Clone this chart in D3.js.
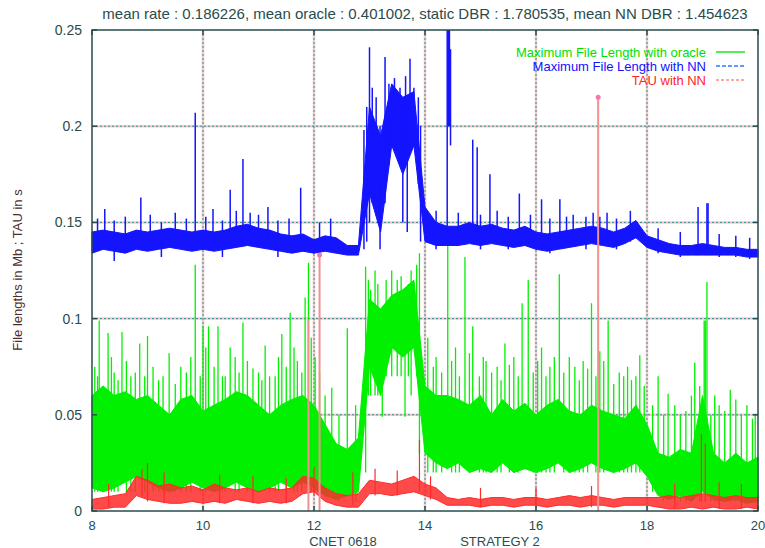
<html>
<head>
<meta charset="utf-8">
<script src="https://cdn.jsdelivr.net/npm/d3@7/dist/d3.min.js"></script>
<style>
  body { margin: 0; background: white; }
  text { font-family: "Liberation Sans", Arial, sans-serif; }
</style>
</head>
<body>
<div id="chart"></div>
<script>
// --- data ---
const hours = [8.0, 8.2, 8.4, 8.6, 8.8, 9.0, 9.2, 9.4, 9.6, 9.8,
  10.0, 10.2, 10.4, 10.6, 10.8, 11.0, 11.2, 11.4, 11.6, 11.8,
  12.0, 12.2, 12.4, 12.6, 12.8, 13.0, 13.2, 13.4, 13.6, 13.8,
  14.0, 14.2, 14.4, 14.6, 14.8, 15.0, 15.2, 15.4, 15.6, 15.8,
  16.0, 16.2, 16.4, 16.6, 16.8, 17.0, 17.2, 17.4, 17.6, 17.8,
  18.0, 18.2, 18.4, 18.6, 18.8, 19.0, 19.2, 19.4, 19.6, 19.8, 20.0];

// Maximum File Length with oracle (dense band low / high)
const oracleLo = [0.012, 0.010, 0.012, 0.015, 0.018, 0.015, 0.012, 0.010, 0.012, 0.015,
  0.012, 0.010, 0.012, 0.015, 0.012, 0.010, 0.012, 0.015, 0.012, 0.015,
  0.012, 0.008, 0.006, 0.008, 0.010, 0.075, 0.060, 0.085, 0.080, 0.085,
  0.030, 0.025, 0.022, 0.025, 0.020, 0.022, 0.020, 0.025, 0.020, 0.022,
  0.020, 0.022, 0.025, 0.020, 0.022, 0.025, 0.022, 0.020, 0.022, 0.025,
  0.018, 0.008, 0.006, 0.008, 0.005, 0.010, 0.006, 0.005, 0.006, 0.004, 0.005];
const oracleHi = [0.060, 0.065, 0.060, 0.062, 0.058, 0.060, 0.055, 0.050, 0.058, 0.060,
  0.052, 0.055, 0.058, 0.062, 0.060, 0.055, 0.050, 0.055, 0.058, 0.060,
  0.055, 0.045, 0.035, 0.032, 0.038, 0.110, 0.105, 0.112, 0.115, 0.120,
  0.065, 0.060, 0.060, 0.058, 0.055, 0.060, 0.050, 0.058, 0.052, 0.056,
  0.050, 0.055, 0.058, 0.052, 0.050, 0.055, 0.052, 0.050, 0.048, 0.055,
  0.045, 0.030, 0.028, 0.032, 0.030, 0.060, 0.030, 0.025, 0.030, 0.025, 0.028];
// spikes: [hour, from, to]
const oracleSpikes = [
  [8.05, 0.01, 0.075], [8.10, 0.01, 0.070], [8.13, 0.02, 0.099], [8.29, 0.02, 0.0925],
  [8.35, 0.01, 0.080], [8.40, 0.01, 0.072], [8.47, 0.01, 0.068], [8.54, 0.02, 0.093],
  [8.62, 0.01, 0.078], [8.70, 0.01, 0.070], [8.78, 0.01, 0.072], [8.86, 0.02, 0.087],
  [8.95, 0.01, 0.070], [9.00, 0.02, 0.091], [9.10, 0.01, 0.075], [9.20, 0.01, 0.068],
  [9.28, 0.01, 0.070], [9.39, 0.02, 0.082], [9.50, 0.01, 0.066], [9.60, 0.01, 0.075],
  [9.70, 0.01, 0.072], [9.78, 0.01, 0.080], [9.86, 0.02, 0.128], [9.95, 0.01, 0.070],
  [10.00, 0.02, 0.096], [10.05, 0.01, 0.085], [10.10, 0.02, 0.096], [10.20, 0.01, 0.075],
  [10.27, 0.02, 0.096], [10.35, 0.01, 0.070], [10.40, 0.01, 0.070], [10.49, 0.02, 0.085],
  [10.58, 0.01, 0.080], [10.65, 0.01, 0.072], [10.72, 0.02, 0.098], [10.80, 0.01, 0.078],
  [10.90, 0.01, 0.074], [11.00, 0.01, 0.072], [11.06, 0.01, 0.068], [11.12, 0.02, 0.086],
  [11.20, 0.01, 0.070], [11.30, 0.01, 0.070], [11.36, 0.01, 0.080], [11.42, 0.02, 0.092],
  [11.50, 0.01, 0.075], [11.57, 0.02, 0.103], [11.64, 0.01, 0.085], [11.70, 0.01, 0.078],
  [11.78, 0.01, 0.072], [11.84, 0.02, 0.111], [11.90, 0.02, 0.129], [11.95, 0.01, 0.090],
  [12.02, 0.01, 0.080], [12.10, 0.01, 0.072], [12.20, 0.01, 0.060], [12.32, 0.01, 0.064],
  [12.45, 0.005, 0.050], [12.60, 0.01, 0.095], [12.75, 0.005, 0.055], [12.93, 0.02, 0.127],
  [12.98, 0.06, 0.120], [13.02, 0.06, 0.115], [13.10, 0.06, 0.125], [13.15, 0.06, 0.118],
  [13.23, 0.049, 0.100], [13.30, 0.07, 0.120], [13.40, 0.07, 0.125], [13.50, 0.07, 0.120],
  [13.57, 0.07, 0.122], [13.64, 0.049, 0.100], [13.70, 0.07, 0.118], [13.75, 0.06, 0.125],
  [13.85, 0.07, 0.128], [13.90, 0.03, 0.134], [14.05, 0.02, 0.090], [14.15, 0.02, 0.075],
  [14.20, 0.02, 0.080], [14.30, 0.02, 0.072], [14.41, 0.03, 0.142], [14.48, 0.02, 0.078],
  [14.55, 0.02, 0.085], [14.62, 0.02, 0.070], [14.72, 0.03, 0.132], [14.80, 0.02, 0.082],
  [14.86, 0.03, 0.096], [14.98, 0.02, 0.070], [15.05, 0.02, 0.080], [15.10, 0.02, 0.078],
  [15.20, 0.02, 0.072], [15.30, 0.02, 0.075], [15.37, 0.02, 0.068], [15.44, 0.03, 0.087],
  [15.52, 0.02, 0.076], [15.60, 0.02, 0.080], [15.68, 0.02, 0.070], [15.75, 0.03, 0.108],
  [15.86, 0.03, 0.120], [15.95, 0.02, 0.072], [16.03, 0.02, 0.078], [16.10, 0.02, 0.085],
  [16.18, 0.02, 0.070], [16.25, 0.02, 0.075], [16.33, 0.02, 0.080], [16.42, 0.03, 0.123],
  [16.50, 0.02, 0.072], [16.60, 0.02, 0.080], [16.70, 0.02, 0.075], [16.78, 0.02, 0.068],
  [16.85, 0.02, 0.078], [16.93, 0.02, 0.074], [17.00, 0.03, 0.108], [17.08, 0.02, 0.070],
  [17.15, 0.02, 0.083], [17.22, 0.02, 0.078], [17.30, 0.03, 0.099], [17.40, 0.02, 0.066],
  [17.50, 0.02, 0.072], [17.58, 0.02, 0.070], [17.65, 0.02, 0.075], [17.72, 0.02, 0.068],
  [17.80, 0.02, 0.070], [17.87, 0.02, 0.081], [17.95, 0.02, 0.065], [18.10, 0.01, 0.055],
  [18.20, 0.01, 0.070], [18.30, 0.005, 0.050], [18.38, 0.01, 0.061], [18.50, 0.005, 0.055],
  [18.60, 0.005, 0.050], [18.70, 0.005, 0.052], [18.80, 0.005, 0.060], [18.86, 0.01, 0.077],
  [18.95, 0.005, 0.065], [19.03, 0.01, 0.099], [19.05, 0.01, 0.099], [19.08, 0.01, 0.119],
  [19.15, 0.005, 0.050], [19.22, 0.005, 0.060], [19.30, 0.005, 0.055], [19.40, 0.005, 0.052],
  [19.50, 0.005, 0.063], [19.60, 0.005, 0.058], [19.70, 0.005, 0.050], [19.80, 0.005, 0.055],
  [19.90, 0.005, 0.048], [19.95, 0.005, 0.050]];

// Maximum File Length with NN
const nnLo = [0.134, 0.136, 0.135, 0.134, 0.136, 0.135, 0.136, 0.137, 0.136, 0.135,
  0.136, 0.135, 0.136, 0.137, 0.138, 0.137, 0.136, 0.135, 0.134, 0.135,
  0.134, 0.135, 0.134, 0.133, 0.133, 0.165, 0.145, 0.190, 0.175, 0.190,
  0.140, 0.138, 0.138, 0.138, 0.139, 0.138, 0.139, 0.138, 0.137, 0.138,
  0.136, 0.135, 0.136, 0.137, 0.138, 0.139, 0.138, 0.137, 0.139, 0.142,
  0.137, 0.135, 0.134, 0.133, 0.133, 0.133, 0.133, 0.133, 0.133, 0.132, 0.132];
const nnHi = [0.145, 0.146, 0.145, 0.144, 0.146, 0.145, 0.146, 0.147, 0.146, 0.145,
  0.146, 0.145, 0.146, 0.148, 0.149, 0.147, 0.146, 0.144, 0.143, 0.144,
  0.141, 0.143, 0.142, 0.138, 0.138, 0.210, 0.195, 0.222, 0.215, 0.218,
  0.158, 0.150, 0.148, 0.148, 0.150, 0.148, 0.149, 0.147, 0.146, 0.148,
  0.145, 0.144, 0.145, 0.146, 0.147, 0.148, 0.147, 0.145, 0.147, 0.151,
  0.143, 0.141, 0.139, 0.138, 0.138, 0.139, 0.138, 0.137, 0.137, 0.136, 0.136];
const nnSpikes = [
  [8.10, 0.14, 0.152], [8.23, 0.14, 0.157], [8.40, 0.13, 0.151], [8.60, 0.14, 0.153],
  [8.88, 0.14, 0.163], [9.05, 0.14, 0.154], [9.25, 0.132, 0.150], [9.50, 0.14, 0.155],
  [9.70, 0.14, 0.152], [9.86, 0.14, 0.207], [10.05, 0.14, 0.153], [10.18, 0.14, 0.157],
  [10.35, 0.132, 0.151], [10.49, 0.14, 0.167], [10.60, 0.14, 0.156], [10.72, 0.14, 0.183],
  [10.85, 0.14, 0.155], [11.00, 0.14, 0.154], [11.17, 0.14, 0.158], [11.35, 0.132, 0.151],
  [11.55, 0.14, 0.152], [11.76, 0.14, 0.168], [12.10, 0.132, 0.150], [12.30, 0.14, 0.152],
  [12.90, 0.136, 0.198], [12.95, 0.14, 0.210], [13.00, 0.15, 0.241], [13.05, 0.16, 0.220],
  [13.12, 0.17, 0.215], [13.19, 0.136, 0.200], [13.28, 0.16, 0.236], [13.35, 0.18, 0.222],
  [13.45, 0.19, 0.225], [13.55, 0.18, 0.220], [13.60, 0.15, 0.215], [13.65, 0.20, 0.226],
  [13.68, 0.145, 0.200], [13.73, 0.19, 0.235], [13.80, 0.20, 0.220], [13.88, 0.17, 0.215],
  [13.92, 0.14, 0.200], [14.20, 0.136, 0.156], [14.40, 0.14, 0.250], [14.42, 0.20, 0.250],
  [14.44, 0.20, 0.250], [14.46, 0.19, 0.240], [14.60, 0.14, 0.155], [14.86, 0.14, 0.193],
  [14.94, 0.14, 0.189], [15.00, 0.136, 0.154], [15.17, 0.14, 0.175], [15.30, 0.14, 0.156],
  [15.50, 0.136, 0.153], [15.70, 0.14, 0.165], [15.90, 0.14, 0.154], [16.10, 0.14, 0.162],
  [16.25, 0.134, 0.152], [16.43, 0.14, 0.162], [16.55, 0.14, 0.153], [16.67, 0.14, 0.154],
  [16.90, 0.136, 0.153], [17.03, 0.14, 0.155], [17.15, 0.14, 0.153], [17.28, 0.14, 0.155],
  [17.45, 0.136, 0.152], [17.70, 0.14, 0.156], [18.20, 0.134, 0.147], [18.60, 0.132, 0.145],
  [18.92, 0.135, 0.158], [19.08, 0.135, 0.160], [19.10, 0.135, 0.160], [19.30, 0.132, 0.144],
  [19.60, 0.132, 0.143], [19.85, 0.131, 0.142]];

// TAU with NN
const tauLo = [0.001, 0.001, 0.002, 0.002, 0.008, 0.006, 0.005, 0.004, 0.004, 0.005,
  0.004, 0.005, 0.004, 0.006, 0.005, 0.004, 0.005, 0.004, 0.005, 0.009,
  0.010, 0.005, 0.003, 0.002, 0.002, 0.009, 0.009, 0.008, 0.009, 0.010,
  0.008, 0.006, 0.003, 0.003, 0.003, 0.002, 0.003, 0.003, 0.002, 0.003,
  0.003, 0.002, 0.003, 0.003, 0.002, 0.003, 0.003, 0.002, 0.003, 0.003,
  0.003, 0.002, 0.001, 0.001, 0.002, 0.001, 0.002, 0.001, 0.001, 0.002, 0.001];
const tauHi = [0.006, 0.007, 0.008, 0.009, 0.018, 0.016, 0.013, 0.014, 0.012, 0.013,
  0.011, 0.014, 0.012, 0.011, 0.012, 0.010, 0.012, 0.011, 0.012, 0.018,
  0.017, 0.012, 0.009, 0.008, 0.009, 0.016, 0.015, 0.014, 0.016, 0.018,
  0.014, 0.012, 0.007, 0.006, 0.007, 0.006, 0.007, 0.007, 0.006, 0.007,
  0.007, 0.006, 0.007, 0.008, 0.007, 0.008, 0.007, 0.006, 0.007, 0.007,
  0.007, 0.007, 0.008, 0.007, 0.008, 0.009, 0.008, 0.007, 0.008, 0.007, 0.007];
const tauSpikes = [[8.30, 0.002, 0.014], [8.90, 0.008, 0.022], [9.00, 0.005, 0.025],
  [9.30, 0.004, 0.020], [10.30, 0.004, 0.019], [10.90, 0.004, 0.018], [11.50, 0.004, 0.017],
  [11.90, 0.0, 0.099], [12.00, 0.008, 0.023], [12.10, 0.0, 0.133], [12.70, 0.003, 0.020],
  [13.10, 0.008, 0.022], [13.50, 0.008, 0.021], [13.90, 0.01, 0.037], [14.10, 0.006, 0.018],
  [15.00, 0.002, 0.012], [16.00, 0.002, 0.012], [17.00, 0.002, 0.013], [17.12, 0.0, 0.215],
  [18.50, 0.001, 0.014], [18.98, 0.005, 0.040], [19.05, 0.005, 0.035], [19.30, 0.001, 0.015],
  [19.70, 0.001, 0.014]];
const tauMarks = [[12.10, 0.133], [17.12, 0.215]];

const xTicks = [8, 10, 12, 14, 16, 18, 20];
const yTicks = [0, 0.05, 0.1, 0.15, 0.2, 0.25];
const yTickLabels = ["0", "0.05", "0.1", "0.15", "0.2", "0.25"];
const legendLabels = ["Maximum File Length with oracle", "Maximum File Length with NN", "TAU with NN"];
const titleText = "mean rate : 0.186226, mean oracle : 0.401002, static DBR : 1.780535, mean NN DBR : 1.454623";

// --- drawing ---
const width = 765, height = 548;
const plotLeft = 92, plotRight = 758, plotTop = 30, plotBottom = 511;
const axisColor = "#294c4c";

const x = d3.scaleLinear().domain([8, 20]).range([plotLeft, plotRight]);
const y = d3.scaleLinear().domain([0, 0.25]).range([plotBottom, plotTop]);

const svg = d3.select("#chart").append("svg")
  .attr("width", width)
  .attr("height", height);

// grid (pink halo under a dotted teal line)
const grid = svg.append("g");
[["#f4cccc", 2.5, "none"], ["#2f8f94", 1, "2,2"]].forEach(st => {
  grid.append("g").selectAll("line").data(xTicks.slice(1, -1)).enter().append("line")
    .attr("x1", d => x(d)).attr("x2", d => x(d))
    .attr("y1", plotTop).attr("y2", plotBottom)
    .style("stroke", st[0]).style("stroke-width", st[1]).style("stroke-dasharray", st[2]);
  grid.append("g").selectAll("line").data(yTicks.slice(1, -1)).enter().append("line")
    .attr("x1", plotLeft).attr("x2", plotRight)
    .attr("y1", d => y(d)).attr("y2", d => y(d))
    .style("stroke", st[0]).style("stroke-width", st[1]).style("stroke-dasharray", st[2]);
});

// band + spikes for one series
function drawSeries(lo, hi, spikes, color, spikeWidth, bandOpacity) {
  const g = svg.append("g");
  const band = hours.map((h, i) => ({h: h, lo: lo[i], hi: hi[i]}));
  const area = d3.area()
    .x(d => x(d.h))
    .y0(d => y(d.lo))
    .y1(d => y(d.hi));
  g.append("path")
    .datum(band)
    .attr("d", area)
    .style("fill", color)
    .style("fill-opacity", bandOpacity)
    .style("stroke", color)
    .style("stroke-width", 1);
  g.selectAll("line").data(spikes).enter().append("line")
    .attr("x1", d => x(d[0])).attr("x2", d => x(d[0]))
    .attr("y1", d => y(d[1])).attr("y2", d => y(d[2]))
    .style("stroke", color)
    .style("stroke-width", spikeWidth);
  return g;
}

drawSeries(oracleLo, oracleHi, oracleSpikes, "#00f000", 1.3, 1);
drawSeries(nnLo, nnHi, nnSpikes, "#1414ff", 1.5, 1);
const tau = drawSeries(tauLo, tauHi, tauSpikes, "#ff2a2a", 1.2, 0.85);
tau.selectAll("line").filter(d => d[2] > 0.05)
  .style("stroke", "#f29090").style("stroke-width", 2);
tau.selectAll("circle").data(tauMarks).enter().append("circle")
  .attr("cx", d => x(d[0])).attr("cy", d => y(d[1]))
  .attr("r", 2.5)
  .style("fill", "#f07ab0");

// frame
svg.append("rect")
  .attr("x", plotLeft).attr("y", plotTop)
  .attr("width", plotRight - plotLeft).attr("height", plotBottom - plotTop)
  .style("fill", "none").style("stroke", axisColor).style("stroke-width", 1.5);

// inward tick marks
const ticks = svg.append("g").style("stroke", axisColor).style("stroke-width", 1.5);
xTicks.forEach(t => {
  ticks.append("line").attr("x1", x(t)).attr("x2", x(t)).attr("y1", plotBottom).attr("y2", plotBottom - 5);
  ticks.append("line").attr("x1", x(t)).attr("x2", x(t)).attr("y1", plotTop).attr("y2", plotTop + 5);
});
yTicks.forEach(t => {
  ticks.append("line").attr("x1", plotLeft).attr("x2", plotLeft + 5).attr("y1", y(t)).attr("y2", y(t));
  ticks.append("line").attr("x1", plotRight).attr("x2", plotRight - 5).attr("y1", y(t)).attr("y2", y(t));
});

// tick labels
svg.append("g").selectAll("text").data(xTicks).enter().append("text")
  .attr("x", d => x(d)).attr("y", 530)
  .attr("text-anchor", "middle")
  .style("font-size", "13px").style("fill", axisColor)
  .text(d => d);
svg.append("g").selectAll("text").data(yTicks).enter().append("text")
  .attr("x", 82).attr("y", d => y(d) + 5)
  .attr("text-anchor", "end")
  .style("font-size", "14px").style("fill", axisColor)
  .text((d, i) => yTickLabels[i]);

// titles
svg.append("text")
  .attr("x", 425).attr("y", 19)
  .attr("text-anchor", "middle")
  .style("font-size", "15px").style("fill", axisColor)
  .text(titleText);
svg.append("text")
  .attr("x", 343).attr("y", 546)
  .attr("text-anchor", "middle")
  .style("font-size", "13px").style("fill", axisColor)
  .text("CNET 0618");
svg.append("text")
  .attr("x", 500).attr("y", 546)
  .attr("text-anchor", "middle")
  .style("font-size", "13px").style("fill", axisColor)
  .text("STRATEGY 2");
svg.append("text")
  .attr("transform", "translate(22,270) rotate(-90)")
  .attr("text-anchor", "middle")
  .style("font-size", "13px").style("fill", "#4a2e2e")
  .text("File lengths in Mb ; TAU in s");

// legend
const legendColors = ["#00e000", "#1010ff", "#ff2424"];
const legendLines = ["#00e000", "#2a7cff", "#ff8c8c"];
const legendDash = ["none", "4,2", "3,2"];
const legend = svg.append("g");
legendLabels.forEach((lab, i) => {
  const ly = 52 + i * 14;
  legend.append("text")
    .attr("x", 706).attr("y", ly + 5)
    .attr("text-anchor", "end")
    .style("font-size", "13px").style("fill", legendColors[i])
    .text(lab);
  legend.append("line")
    .attr("x1", 716).attr("x2", 745)
    .attr("y1", ly).attr("y2", ly)
    .style("stroke", legendLines[i]).style("stroke-width", 1.3)
    .style("stroke-dasharray", legendDash[i]);
});
</script>
</body>
</html>
